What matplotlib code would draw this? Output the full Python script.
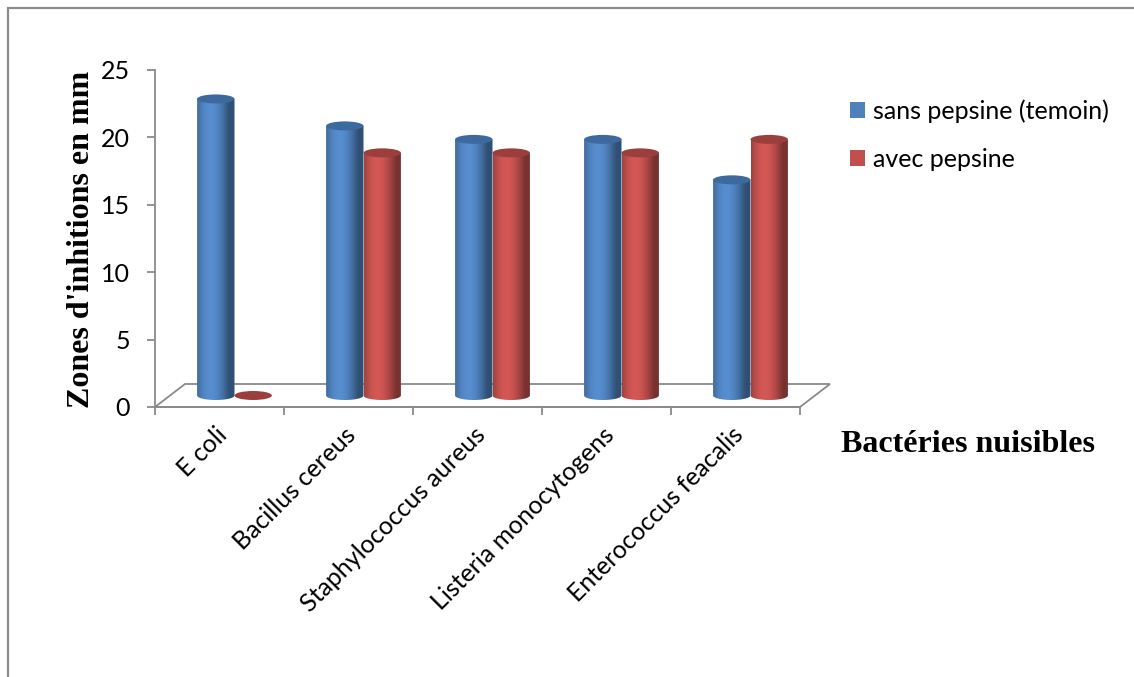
import numpy as np
import matplotlib
matplotlib.use("Agg")
import matplotlib.pyplot as plt
from matplotlib.patches import Ellipse, PathPatch, Patch, Rectangle, Polygon
from matplotlib.path import Path

# ---- data -------------------------------------------------------------
categories = ["E coli", "Bacillus cereus", "Staphylococcus aureus",
              "Listeria monocytogens", "Enterococcus feacalis"]
sans_pepsine = [22, 20, 19, 19, 16]
avec_pepsine = [0, 18, 18, 18, 19]
series_labels = ["sans pepsine (temoin)", "avec pepsine"]
yticks = [0, 5, 10, 15, 20, 25]

# ---- style ------------------------------------------------------------
BLUE = np.array([79, 129, 189]) / 255
RED = np.array([192, 80, 77]) / 255
BLUE_TOP = "#3d6a9e"
RED_TOP = "#9c3f3c"
GRID = "#8a8a8a"
sans_font = ["Lato", "DejaVu Sans"]
serif_font = ["Liberation Serif", "DejaVu Serif"]
FS = 18

W, H = 1134, 677
fig = plt.figure(figsize=(W / 100, H / 100), dpi=100)
fig.patch.set_facecolor("white")

# plot area (front plane of the 3-D floor)
px_left, px_right, px_bottom, px_top = 155, 800, 407, 70
ax = fig.add_axes([px_left / W, 1 - px_bottom / H,
                   (px_right - px_left) / W, (px_bottom - px_top) / H])
ax.set_xlim(0, len(categories))
ax.set_ylim(0, 25)
ax.patch.set_visible(False)

ux = (px_right - px_left) / len(categories)   # px per category
uy = (px_bottom - px_top) / 25.0              # px per unit

# depth of the floor (back edge) and of the bar row (middle)
back_dx, back_dy = 30 / ux, 23 / uy
row_dx, row_dy = back_dx / 2, back_dy / 2

# floor parallelogram
floor = Polygon([(0, 0), (back_dx, back_dy), (len(categories) + back_dx, back_dy),
                 (len(categories), 0)], closed=True, fill=False,
                edgecolor=GRID, lw=1.3, clip_on=False, zorder=1)
ax.add_patch(floor)

for s in ["top", "right"]:
    ax.spines[s].set_visible(False)
for s in ["left", "bottom"]:
    ax.spines[s].set_color(GRID)
    ax.spines[s].set_linewidth(1.3)

ax.set_yticks(yticks)
ax.set_yticklabels([str(v) for v in yticks], fontsize=FS, family=sans_font)
ax.tick_params(axis="y", direction="out", length=6, width=1.3, color=GRID, pad=12)
ax.set_xticks(np.arange(len(categories) + 1))
ax.set_xticklabels([])
ax.tick_params(axis="x", which="major", direction="out", length=6, width=1.3, color=GRID)

# category labels, rotated 45 degrees
for i, name in enumerate(categories):
    ax.text(i + 0.5 + 0.03, -1.8, name, rotation=45, rotation_mode="anchor",
            ha="right", va="center", fontsize=FS, family=sans_font,
            clip_on=False)

# ---- cylinders ---------------------------------------------------------
bar_w = 0.29
offsets = [-bar_w / 2, bar_w / 2]
cap_h = 9 / uy


def shade_row(base, n=64):
    t = np.linspace(0, 1, n)
    theta = (t - 0.5) * np.pi
    f = 0.62 + 0.48 * np.clip(np.cos(theta + 0.45), 0, None)
    rgb = np.clip(base[None, :] * f[:, None], 0, 1)
    return rgb[None, :, :]


def cylinder(rect, base, top_color, z):
    x0 = rect.get_x()
    w = rect.get_width()
    y0 = rect.get_y()
    h = rect.get_height()
    xc = x0 + w / 2
    top = y0 + h
    if h > 0:
        ang = np.linspace(np.pi, 2 * np.pi, 40)
        arc = np.column_stack([xc + w / 2 * np.cos(ang), y0 + cap_h / 2 * np.sin(ang)])
        verts = np.vstack([[x0, top], [x0, y0], arc, [x0 + w, top], [x0, top]])
        codes = [Path.MOVETO] + [Path.LINETO] * (len(verts) - 2) + [Path.CLOSEPOLY]
        body = PathPatch(Path(verts, codes), facecolor="none", edgecolor="none",
                         transform=ax.transData)
        ax.add_patch(body)
        im = ax.imshow(shade_row(base), extent=[x0, x0 + w, y0 - cap_h, top],
                       aspect="auto", interpolation="bilinear", zorder=z)
        im.set_clip_path(body)
    cap = Ellipse((xc, top), w, cap_h, facecolor=top_color, edgecolor="none", zorder=z + 0.1)
    ax.add_patch(cap)


x = np.arange(len(categories)) + 0.5 + row_dx
bars_s = ax.bar(x + offsets[0], sans_pepsine, bar_w, bottom=row_dy,
                color="none", edgecolor="none")
bars_a = ax.bar(x + offsets[1], avec_pepsine, bar_w, bottom=row_dy,
                color="none", edgecolor="none")
for i in range(len(categories)):
    cylinder(bars_s[i], BLUE, BLUE_TOP, 3 + 2 * i)
    cylinder(bars_a[i], RED, RED_TOP, 4 + 2 * i)

ax.set_xlim(0, len(categories))
ax.set_ylim(0, 25)

# ---- titles ------------------------------------------------------------
fig.text(82 / W, 1 - 239 / H, "Zones d'inhitions en mm", rotation=90,
         ha="center", va="center", fontsize=23, fontweight="bold", family=serif_font)
fig.text(968 / W, 1 - 444 / H, "Bactéries nuisibles", ha="center", va="center",
         fontsize=23, fontweight="bold", family=serif_font)

# ---- legend ------------------------------------------------------------
handles = [Patch(facecolor=BLUE, edgecolor="none"), Patch(facecolor=RED, edgecolor="none")]
fig.legend(handles, series_labels, loc="upper left",
           bbox_to_anchor=(837 / W, 1 - 87 / H), frameon=False,
           prop={"family": sans_font, "size": FS}, handlelength=0.6,
           handleheight=0.6, handletextpad=0.35, labelspacing=1.0, borderpad=0)

# chart border
fig.add_artist(Rectangle((8 / W, -0.5), 2, 1.5 - 8 / H, transform=fig.transFigure,
                         fill=False, edgecolor="#8c8c8c", lw=1.6))

fig.savefig("out.png", dpi=100, facecolor="white")
